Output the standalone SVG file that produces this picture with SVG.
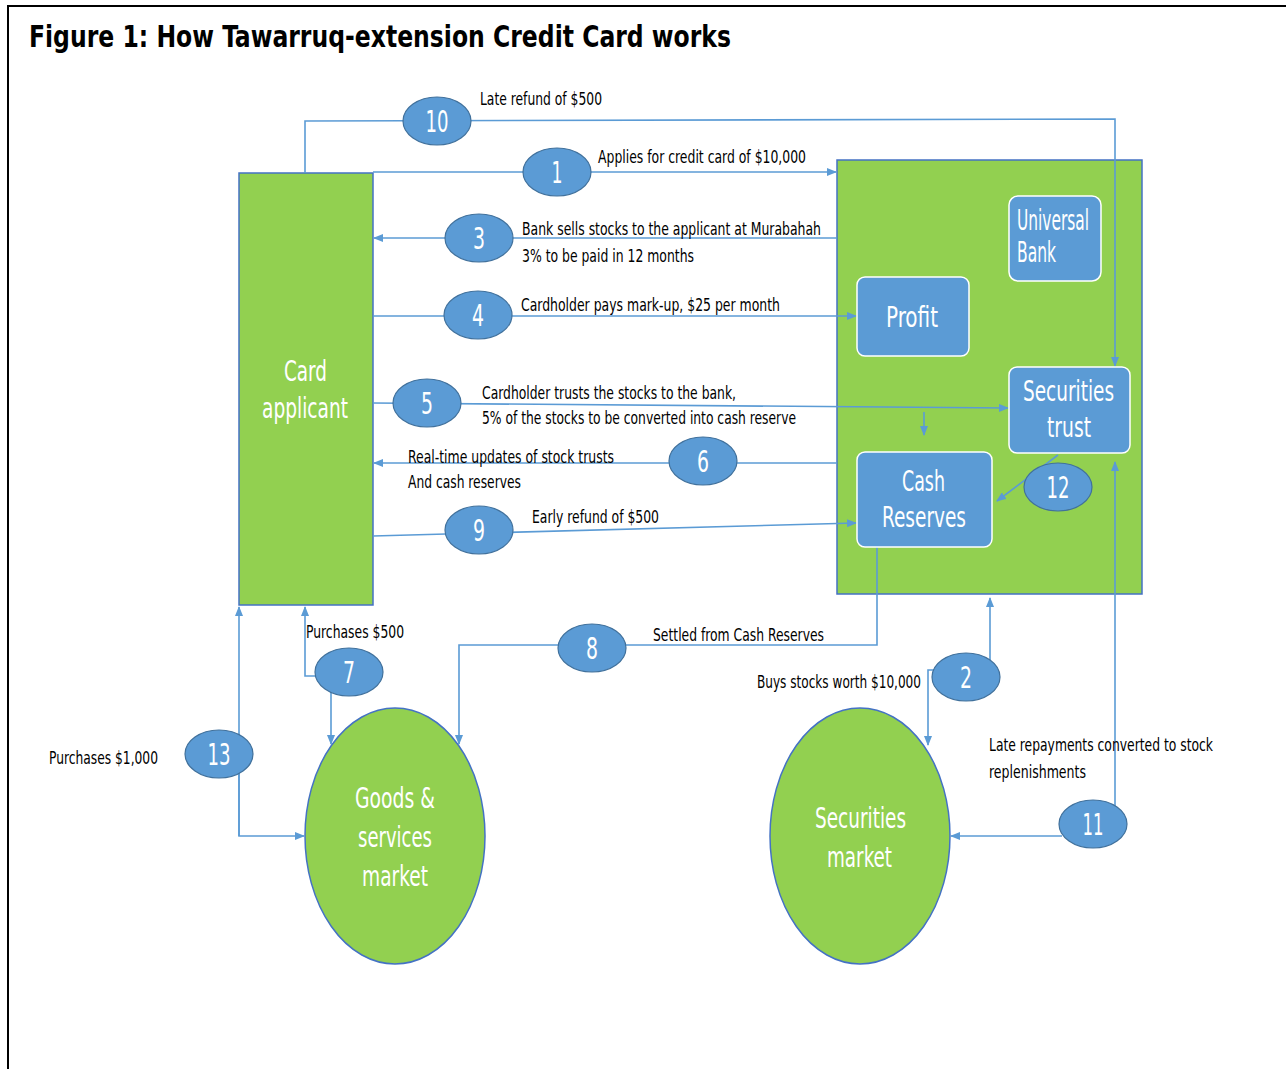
<svg xmlns="http://www.w3.org/2000/svg" width="1286" height="1069" viewBox="0 0 1286 1069">
<style>
.lbl{font-family:"Liberation Sans Narrow","DejaVu Sans Condensed","Liberation Sans",sans-serif;font-size:18px;fill:#000}
.wt{font-family:"Liberation Sans Narrow","DejaVu Sans Condensed","Liberation Sans",sans-serif;font-size:29px;fill:#fff}
.num{font-family:"Liberation Sans Narrow","DejaVu Sans Condensed","Liberation Sans",sans-serif;font-size:30px;fill:#fff;text-anchor:middle}
.green{fill:#92d050;stroke:#4472c4;stroke-width:1.5}
.box{fill:#5b9bd5;stroke:#ffffff;stroke-width:1.5}
.badge{fill:#5b9bd5;stroke:#41719c;stroke-width:1.2}
.arr{fill:none;stroke:#5b9bd5;stroke-width:1.6;marker-end:url(#ah)}
</style>
<defs>
<marker id="ah" markerWidth="10" markerHeight="8" refX="9" refY="4" orient="auto" markerUnits="userSpaceOnUse">
<path d="M0,0 L10,4 L0,8 z" fill="#5b9bd5"/>
</marker>
</defs>
<rect width="1286" height="1069" fill="#fff"/>
<path d="M8,1069 L8,6 L1286,6" fill="none" stroke="#000" stroke-width="2"/>
<text x="29" y="47" font-family="'Liberation Sans Narrow','DejaVu Sans Condensed','Liberation Sans',sans-serif" font-weight="bold" font-size="31" textLength="702" lengthAdjust="spacingAndGlyphs">Figure 1: How Tawarruq-extension Credit Card works</text>

<g id="card-applicant">
<rect class="green" x="239" y="173" width="134" height="432"/>
<text class="wt" x="284" y="381" textLength="43" lengthAdjust="spacingAndGlyphs">Card</text>
<text class="wt" x="262" y="418" textLength="86" lengthAdjust="spacingAndGlyphs">applicant</text>
</g>

<g id="bank">
<rect class="green" x="837" y="160" width="305" height="434"/>
</g>

<g id="goods-market">
<ellipse class="green" cx="395" cy="836" rx="90" ry="128"/>
<text class="wt" x="355" y="808" textLength="80" lengthAdjust="spacingAndGlyphs">Goods &amp;</text>
<text class="wt" x="358" y="847" textLength="74" lengthAdjust="spacingAndGlyphs">services</text>
<text class="wt" x="362" y="886" textLength="66" lengthAdjust="spacingAndGlyphs">market</text>
</g>

<g id="securities-market">
<ellipse class="green" cx="860" cy="836" rx="90" ry="128"/>
<text class="wt" x="815" y="828" textLength="91" lengthAdjust="spacingAndGlyphs">Securities</text>
<text class="wt" x="827" y="867" textLength="65" lengthAdjust="spacingAndGlyphs">market</text>
</g>

<g id="connectors">
<polyline class="arr" points="305,173 305,121 1115,119 1115,366"/>
<line class="arr" x1="373" y1="172" x2="836" y2="172"/>
<line class="arr" x1="837" y1="238" x2="374" y2="238"/>
<line class="arr" x1="373" y1="316" x2="856" y2="316"/>
<line class="arr" x1="373" y1="403" x2="1008" y2="408"/>
<line class="arr" x1="924" y1="412" x2="924" y2="435"/>
<line class="arr" x1="837" y1="463" x2="374" y2="463"/>
<line class="arr" x1="373" y1="536" x2="856" y2="523"/>
<line class="arr" x1="1058" y1="455" x2="997" y2="501"/>
<polyline class="arr" points="877,547 877,645 459,645 459,744"/>
<polyline class="arr" points="320,676 305,676 305,607"/>
<line class="arr" x1="331" y1="690" x2="331" y2="744"/>
<polyline class="arr" points="239,836 239,607"/>
<polyline class="arr" points="239,760 239,836 304,836"/>
<line class="arr" x1="990" y1="665" x2="990" y2="598"/>
<polyline class="arr" points="934,670 928,670 928,745"/>
<line class="arr" x1="1115" y1="810" x2="1115" y2="462"/>
<line class="arr" x1="1062" y1="836" x2="951" y2="836"/>
</g>

<g id="universal-bank">
<rect class="box" x="1009" y="196" width="92" height="85" rx="9"/>
<text class="wt" x="1017" y="230" font-size="27" textLength="72" lengthAdjust="spacingAndGlyphs">Universal</text>
<text class="wt" x="1017" y="262" font-size="27" textLength="39" lengthAdjust="spacingAndGlyphs">Bank</text>
</g>

<g id="profit">
<rect class="box" x="857" y="277" width="112" height="79" rx="8"/>
<text class="wt" x="886" y="327" textLength="52" lengthAdjust="spacingAndGlyphs">Profit</text>
</g>

<g id="securities-trust">
<rect class="box" x="1009" y="367" width="121" height="86" rx="8"/>
<text class="wt" x="1023" y="401" textLength="91" lengthAdjust="spacingAndGlyphs">Securities</text>
<text class="wt" x="1047" y="437" textLength="44" lengthAdjust="spacingAndGlyphs">trust</text>
</g>

<g id="cash-reserves">
<rect class="box" x="857" y="452" width="135" height="95" rx="8"/>
<text class="wt" x="902" y="491" textLength="43" lengthAdjust="spacingAndGlyphs">Cash</text>
<text class="wt" x="882" y="527" textLength="84" lengthAdjust="spacingAndGlyphs">Reserves</text>
</g>

<g id="step-10"><ellipse class="badge" cx="437" cy="121" rx="34" ry="24"/><text class="num" x="437" y="132" textLength="23" lengthAdjust="spacingAndGlyphs">10</text></g>
<g id="step-1"><ellipse class="badge" cx="557" cy="172" rx="34" ry="24"/><text class="num" x="557" y="183" textLength="11" lengthAdjust="spacingAndGlyphs">1</text></g>
<g id="step-3"><ellipse class="badge" cx="479" cy="238" rx="34" ry="24"/><text class="num" x="479" y="249" textLength="12" lengthAdjust="spacingAndGlyphs">3</text></g>
<g id="step-4"><ellipse class="badge" cx="478" cy="315" rx="34" ry="24"/><text class="num" x="478" y="326" textLength="12" lengthAdjust="spacingAndGlyphs">4</text></g>
<g id="step-5"><ellipse class="badge" cx="427" cy="403" rx="34" ry="24"/><text class="num" x="427" y="414" textLength="12" lengthAdjust="spacingAndGlyphs">5</text></g>
<g id="step-6"><ellipse class="badge" cx="703" cy="461" rx="34" ry="24"/><text class="num" x="703" y="472" textLength="12" lengthAdjust="spacingAndGlyphs">6</text></g>
<g id="step-9"><ellipse class="badge" cx="479" cy="530" rx="34" ry="24"/><text class="num" x="479" y="541" textLength="12" lengthAdjust="spacingAndGlyphs">9</text></g>
<g id="step-12"><ellipse class="badge" cx="1058" cy="487" rx="34" ry="24"/><text class="num" x="1058" y="498" textLength="23" lengthAdjust="spacingAndGlyphs">12</text></g>
<g id="step-8"><ellipse class="badge" cx="592" cy="648" rx="34" ry="24"/><text class="num" x="592" y="659" textLength="12" lengthAdjust="spacingAndGlyphs">8</text></g>
<g id="step-7"><ellipse class="badge" cx="349" cy="672" rx="34" ry="24"/><text class="num" x="349" y="683" textLength="12" lengthAdjust="spacingAndGlyphs">7</text></g>
<g id="step-13"><ellipse class="badge" cx="219" cy="754" rx="34" ry="24"/><text class="num" x="219" y="765" textLength="23" lengthAdjust="spacingAndGlyphs">13</text></g>
<g id="step-2"><ellipse class="badge" cx="966" cy="677" rx="34" ry="24"/><text class="num" x="966" y="688" textLength="12" lengthAdjust="spacingAndGlyphs">2</text></g>
<g id="step-11"><ellipse class="badge" cx="1093" cy="824" rx="34" ry="24"/><text class="num" x="1093" y="835" textLength="21" lengthAdjust="spacingAndGlyphs">11</text></g>

<g id="labels">
<text class="lbl" x="480" y="105" textLength="122" lengthAdjust="spacingAndGlyphs">Late refund of $500</text>
<text class="lbl" x="598" y="163" textLength="208" lengthAdjust="spacingAndGlyphs">Applies for credit card of $10,000</text>
<text class="lbl" x="522" y="235" textLength="299" lengthAdjust="spacingAndGlyphs">Bank sells stocks to the applicant at Murabahah</text>
<text class="lbl" x="522" y="262" textLength="172" lengthAdjust="spacingAndGlyphs">3% to be paid in 12 months</text>
<text class="lbl" x="521" y="311" textLength="259" lengthAdjust="spacingAndGlyphs">Cardholder pays mark-up, $25 per month</text>
<text class="lbl" x="482" y="399" textLength="254" lengthAdjust="spacingAndGlyphs">Cardholder trusts the stocks to the bank,</text>
<text class="lbl" x="482" y="424" textLength="314" lengthAdjust="spacingAndGlyphs">5% of the stocks to be converted into cash reserve</text>
<text class="lbl" x="408" y="463" textLength="206" lengthAdjust="spacingAndGlyphs">Real-time updates of stock trusts</text>
<text class="lbl" x="408" y="488" textLength="113" lengthAdjust="spacingAndGlyphs">And cash reserves</text>
<text class="lbl" x="532" y="523" textLength="127" lengthAdjust="spacingAndGlyphs">Early refund of $500</text>
<text class="lbl" x="653" y="641" textLength="171" lengthAdjust="spacingAndGlyphs">Settled from Cash Reserves</text>
<text class="lbl" x="306" y="638" textLength="98" lengthAdjust="spacingAndGlyphs">Purchases $500</text>
<text class="lbl" x="757" y="688" font-size="17" textLength="164" lengthAdjust="spacingAndGlyphs">Buys stocks worth $10,000</text>
<text class="lbl" x="989" y="751" textLength="224" lengthAdjust="spacingAndGlyphs">Late repayments converted to stock</text>
<text class="lbl" x="989" y="778" textLength="97" lengthAdjust="spacingAndGlyphs">replenishments</text>
<text class="lbl" x="49" y="764" textLength="109" lengthAdjust="spacingAndGlyphs">Purchases $1,000</text>
</g>
</svg>
